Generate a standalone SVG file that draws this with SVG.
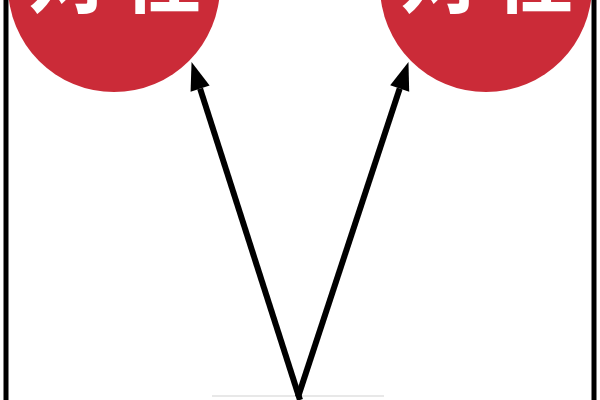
<svg xmlns="http://www.w3.org/2000/svg" width="600" height="400" viewBox="0 0 600 400">
  <style>
    .node-circle { fill: #cb2b38; }
    .node-label { fill: #ffffff; font-family: "Noto Sans CJK SC", "Noto Sans CJK JP", sans-serif; font-size: 80px; font-weight: bold; }
    .frame { stroke: #000000; stroke-width: 5; fill: none; }
    .edge { stroke: #000000; stroke-width: 6; fill: none; marker-end: url(#arrow); }
  </style>
  <defs>
    <marker id="arrow" markerUnits="userSpaceOnUse" markerWidth="30" markerHeight="20" refX="0" refY="10" orient="auto" overflow="visible">
      <path d="M0,0 L28,10 L0,20 z" fill="#000000"/>
    </marker>
  </defs>
  <rect width="600" height="400" fill="#ffffff"/>
  <g id="frame">
    <line class="frame" x1="6" y1="0" x2="6" y2="400"/>
    <line class="frame" x1="594" y1="0" x2="594" y2="400"/>
  </g>
  <g id="node-left">
    <circle class="node-circle" cx="114" cy="-14" r="106"/>
    <text class="node-label" x="28 122" y="6">对任</text>
  </g>
  <g id="node-right">
    <circle class="node-circle" cx="486" cy="-14" r="106"/>
    <text class="node-label" x="400 494" y="6">对任</text>
  </g>
  <g id="node-bottom">
    <line x1="212" y1="396" x2="384" y2="396" stroke="#e8e8e8" stroke-width="2"/>
  </g>
  <g id="connectors">
    <line class="edge" x1="300" y1="400" x2="200.1" y2="88.6"/>
    <line class="edge" x1="298" y1="397" x2="399.7" y2="88.5"/>
  </g>
</svg>
